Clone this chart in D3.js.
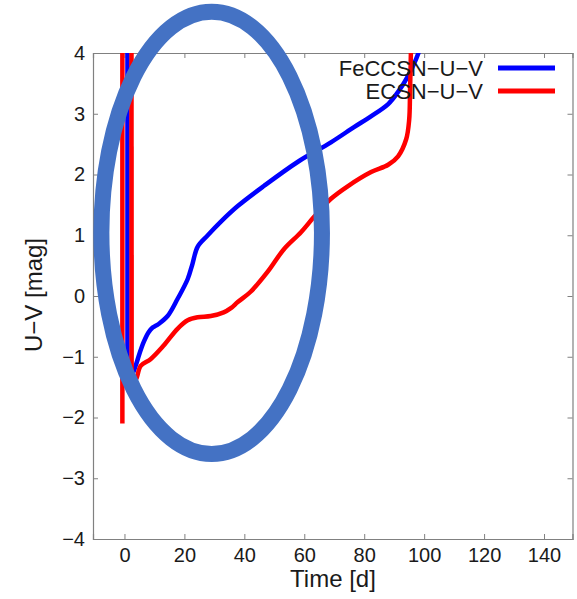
<!DOCTYPE html>
<html><head><meta charset="utf-8">
<script src="https://cdn.jsdelivr.net/npm/d3@7"></script>
<style>body{margin:0;background:#fff}svg{display:block}text{font-family:"Liberation Sans",Arial,sans-serif;fill:#1a1a1a}</style>
</head><body><svg id="c" width="577" height="599"></svg>
<script>
// ---- data ----
const xTicks = [0, 20, 40, 60, 80, 100, 120, 140];
const yTicks = [-4, -3, -2, -1, 0, 1, 2, 3, 4];
const seriesNames = ["FeCCSN\u2212U\u2212V", "ECSN\u2212U\u2212V"];
const seriesColors = ["#0000ff", "#ff0000"];
// FeCCSN U-V (blue)
const feTime = [1.0, 1.0, 2.5, 3.7, 5.0, 6.4, 8.0, 9.4, 11.4, 14.4, 17.7, 21.1, 22.7, 24.4, 27.8, 32.1, 37.8, 46.5, 57.9, 68.9, 76.6, 82.0, 88.0, 91.3, 94.6, 97.3, 99.5];
const feUV   = [8, -1.25, -1.28, -1.15, -0.95, -0.76, -0.6, -0.52, -0.46, -0.33, -0.05, 0.28, 0.53, 0.81, 1.0, 1.22, 1.48, 1.81, 2.21, 2.53, 2.78, 2.95, 3.16, 3.36, 3.62, 3.9, 4.2];
// ECSN U-V (red); null separates pieces
const ecTime = [-0.7, -0.7, null, 2.3, 2.4, 3.7, 5.4, 8.7, 13.0, 17.7, 21.1, 24.4, 28.8, 33.1, 35.5, 37.8, 42.1, 47.8, 53.2, 58.9, 63.2, 68.9, 74.6, 82.3, 88.0, 91.3, 94.0, 95.0, 95.3, 95.7];
const ecUV   = [8, -2.1, null, 8, -1.3, -1.38, -1.15, -1.04, -0.82, -0.54, -0.4, -0.35, -0.33, -0.27, -0.2, -0.1, 0.07, 0.4, 0.77, 1.05, 1.3, 1.6, 1.81, 2.04, 2.16, 2.3, 2.58, 2.9, 3.4, 4.3];
// annotation ellipse (data coords): centre time, centre mag, half-width days, half-height mag
const ellipseSpec = [29.1, 1.04, 36.8, 3.64];

// ---- layout ----
const svg = d3.select("#c");
const L = 93, R = 572.5, T = 53, B = 539;
const x = d3.scaleLinear().domain([-10.5, 149.5]).range([L, R]);
const y = d3.scaleLinear().domain([-4, 4]).range([B, T]);

svg.append("defs").append("clipPath").attr("id", "clip")
  .append("rect").attr("x", L).attr("y", T).attr("width", R - L).attr("height", B - T);

const tickLen = 5;
const axCol = "#808080";
const gB = svg.append("g").attr("transform", `translate(0,${B})`)
  .call(d3.axisBottom(x).tickValues(xTicks).tickSize(-tickLen).tickPadding(9).tickFormat(d3.format("d")));
const gT = svg.append("g").attr("transform", `translate(0,${T})`)
  .call(d3.axisTop(x).tickValues(xTicks).tickSize(-tickLen).tickFormat(""));
const gL = svg.append("g").attr("transform", `translate(${L},0)`)
  .call(d3.axisLeft(y).tickValues(yTicks).tickSize(-tickLen).tickPadding(8).tickFormat(d => d < 0 ? "\u2212" + Math.abs(d) : d));
const gR = svg.append("g").attr("transform", `translate(${R},0)`)
  .call(d3.axisRight(y).tickValues(yTicks).tickSize(-tickLen).tickFormat(""));
[gB, gT, gL, gR].forEach(g => {
  g.select(".domain").attr("stroke", axCol).attr("stroke-width", 1.2);
  g.selectAll(".tick line").attr("stroke", axCol);
  g.selectAll("text").attr("font-size", 20).attr("fill", "#1a1a1a").style("font-family", '"Liberation Sans",Arial,sans-serif');
});

svg.append("text").attr("x", 333).attr("y", 587).attr("text-anchor", "middle").attr("font-size", 24).text("Time [d]");
svg.append("text").attr("transform", "translate(42,295) rotate(-90)").attr("text-anchor", "middle").attr("font-size", 24).text("U\u2212V [mag]");

// split each series into pieces at nulls; the leading vertical drop of a piece is drawn straight,
// the rest smoothed
function pieces(ts, vs) {
  const out = []; let cur = [];
  ts.forEach((t, i) => {
    if (t === null || vs[i] === null) { if (cur.length) out.push(cur); cur = []; }
    else cur.push([t, vs[i]]);
  });
  if (cur.length) out.push(cur);
  return out;
}
const straight = d3.line().x(d => x(d[0])).y(d => y(d[1]));
const smooth = d3.line().x(d => x(d[0])).y(d => y(d[1])).curve(d3.curveCatmullRom.alpha(0.5));
const plot = svg.append("g").attr("clip-path", "url(#clip)");
[pieces(feTime, feUV), pieces(ecTime, ecUV)].forEach((ps, i) => {
  ps.forEach(p => {
    const st = { stroke: seriesColors[i] };
    plot.append("path").datum(p.slice(0, 2)).attr("d", straight).attr("fill", "none")
      .attr("stroke", seriesColors[i]).attr("stroke-width", 4.5).attr("stroke-linecap", "butt");
    if (p.length > 2) {
      plot.append("path").datum(p.slice(1)).attr("d", smooth).attr("fill", "none")
        .attr("stroke", seriesColors[i]).attr("stroke-width", 4.5).attr("stroke-linejoin", "round").attr("stroke-linecap", "round");
    }
  });
});

seriesNames.forEach((n, i) => {
  const ly = 68 + i * 23;
  svg.append("text").attr("x", 483).attr("y", ly + 8).attr("text-anchor", "end").attr("font-size", 22).text(n);
  svg.append("line").attr("x1", 498).attr("x2", 555).attr("y1", ly).attr("y2", ly)
    .attr("stroke", seriesColors[i]).attr("stroke-width", 5);
});

svg.append("ellipse")
  .attr("cx", x(ellipseSpec[0])).attr("cy", y(ellipseSpec[1]))
  .attr("rx", x(ellipseSpec[2]) - x(0)).attr("ry", y(0) - y(ellipseSpec[3]))
  .attr("fill", "none").attr("stroke", "#4472C4").attr("stroke-width", 16);
</script></body></html>
